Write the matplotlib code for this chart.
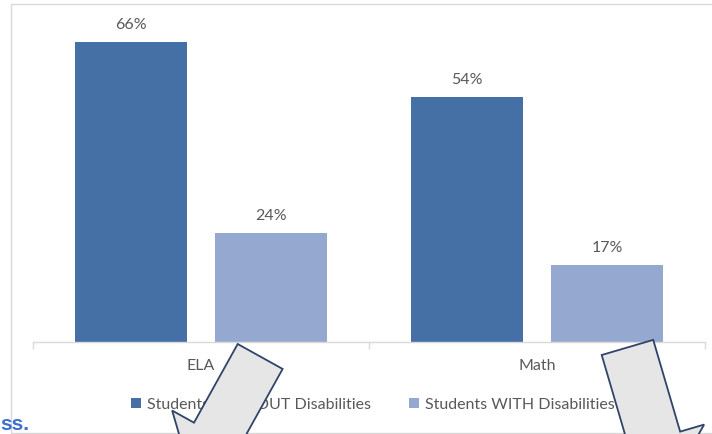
import numpy as np
import matplotlib
matplotlib.use("Agg")
import matplotlib.pyplot as plt
from matplotlib.patches import Polygon, Rectangle

plt.rcParams['font.family'] = ['Lato', 'DejaVu Sans']

# Data
subjects = ["ELA", "Math"]
series_names = ["Students WITHOUT Disabilities", "Students WITH Disabilities"]
without_pct = [66, 54]
with_pct = [24, 17]

colors = ["#4470A6", "#95A9D0"]
text_color = "#595959"
grid_color = "#D9D9D9"

W, H = 712, 434
fig = plt.figure(figsize=(W / 100, H / 100), dpi=100)


def px(x, y):
    """Pixel position (from the top-left corner) to figure fraction."""
    return x / W, 1 - y / H


# Outer chart frame
fig.add_artist(Rectangle(px(10.5, 432.5), (W + 10) / W, 429 / H,
                         transform=fig.transFigure, fill=False,
                         edgecolor=grid_color, linewidth=1.0, zorder=0))

ax_left, ax_right = 33, 705
ax_bottom, ax_top = 342, 22
ax = fig.add_axes([ax_left / W, 1 - ax_bottom / H,
                   (ax_right - ax_left) / W, (ax_bottom - ax_top) / H])

x = np.arange(len(subjects))
bar_w = 1 / 3
offset = 70 / 336

bars1 = ax.bar(x - offset, without_pct, width=bar_w, color=colors[0],
               label=series_names[0], zorder=2)
bars2 = ax.bar(x + offset, with_pct, width=bar_w, color=colors[1],
               label=series_names[1], zorder=2)

for bars, vals in ((bars1, without_pct), (bars2, with_pct)):
    for b, v in zip(bars, vals):
        ax.annotate(f"{v}%", (b.get_x() + b.get_width() / 2, v),
                    xytext=(0, 7), textcoords="offset points",
                    ha="center", va="bottom", fontsize=11.5, color=text_color)

ax.set_xlim(-0.5, len(subjects) - 0.5)
ax.set_ylim(0, 70.45)
ax.set_yticks([])
for s in ("top", "right", "left"):
    ax.spines[s].set_visible(False)
ax.spines["bottom"].set_color(grid_color)
ax.spines["bottom"].set_linewidth(1.0)
ax.set_xticks(x, subjects)
ax.set_xticks(np.arange(len(subjects) + 1) - 0.5, minor=True)
ax.tick_params(axis="x", which="major", length=0, pad=12,
               labelsize=11.5, labelcolor=text_color)
ax.tick_params(axis="x", which="minor", length=5, color=grid_color, width=1.0)
ax.patch.set_alpha(0)

fig.legend(handles=[bars1, bars2], labels=series_names, loc="center",
           bbox_to_anchor=px(373, 405), ncol=2, frameon=False,
           fontsize=11.5, labelcolor=text_color, handlelength=0.6,
           handleheight=0.6, handletextpad=0.4, columnspacing=2.4)

# Slide text peeking out below the chart
fig.text(*px(0.5, 429.5), "ss.", ha="left", va="baseline", fontsize=15,
         fontweight="bold", color="#3D6FD0",
         family=["Liberation Sans", "DejaVu Sans"])


def block_arrow(top_left, direction, width, shaft_len, wing, head_len):
    d = np.asarray(direction, float)
    d /= np.hypot(*d)
    n = np.array([d[1], -d[0]])
    p0 = np.asarray(top_left, float)
    p1 = p0 + width * n
    p2 = p1 + shaft_len * d
    p3 = p2 + wing * n
    tip = p0 + (width / 2) * n + (shaft_len + head_len) * d
    p6 = p0 + shaft_len * d
    p5 = p6 - wing * n
    pts = [px(*p) for p in (p0, p1, p2, p3, tip, p5, p6)]
    fig.add_artist(Polygon(pts, closed=True, transform=fig.transFigure,
                           facecolor="#E6E6E6", edgecolor="#2F4468",
                           linewidth=1.3, joinstyle="miter", zorder=10))


block_arrow((237.7, 344), (-35, 63), 51.4, 90, 25, 50)
block_arrow((601.7, 355), (27, 92), 53.7, 95.6, 25, 50)

fig.savefig("out.png", dpi=100)
